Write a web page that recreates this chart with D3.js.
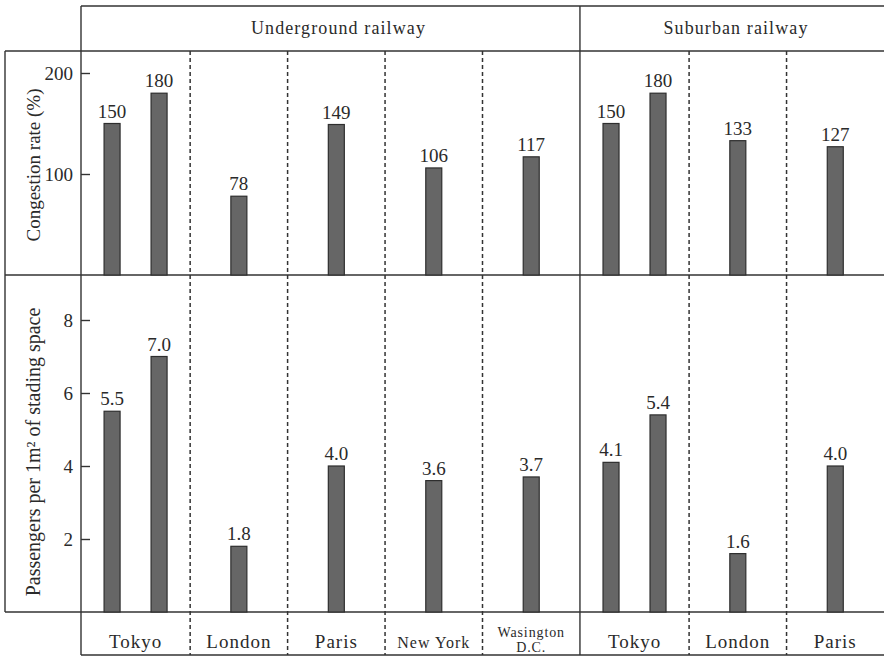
<!DOCTYPE html>
<html>
<head>
<meta charset="utf-8">
<script src="https://cdn.jsdelivr.net/npm/d3@7"></script>
<style>
  html, body { margin: 0; padding: 0; background: #fff; }
  svg { display: block; }
  text { font-family: "Liberation Serif", "DejaVu Serif", serif; fill: #2a2a2a; }
</style>
</head>
<body>
<svg id="chart" width="884" height="666"></svg>
<script>
// ---- Data ----
const groups = ["Underground railway", "Suburban railway"];
const categories = ["Tokyo", "London", "Paris", "New York", "Wasington D.C.", "Tokyo", "London", "Paris"];
const categoryGroup = [0, 0, 0, 0, 0, 1, 1, 1];
const congestion = [[150, 180], [78], [149], [106], [117], [150, 180], [133], [127]];
const passengers = [[5.5, 7.0], [1.8], [4.0], [3.6], [3.7], [4.1, 5.4], [1.6], [4.0]];
const congestionTicks = [100, 200];
const passengerTicks = [2, 4, 6, 8];
const congestionTitle = "Congestion rate (%)";
const passengerTitle = "Passengers per 1m\u00B2 of stading space";

// ---- Layout ----
const outerLeft = 5, left = 81, right = 884;
const headerTop = 6, headerBottom = 51, topBase = 275, botBase = 612, catBottom = 655;
const lineColor = "#333";
const barFill = "#666";
const barW = 16;

const svg = d3.select("#chart");

// column x-scale: columns weighted slightly by number of bars
const weights = congestion.map(d => 1 + 0.12 * (d.length - 1));
const cum = [0];
weights.forEach(w => cum.push(cum[cum.length - 1] + w));
const xw = d3.scaleLinear().domain([0, cum[cum.length - 1]]).range([left, right]);
const colX0 = i => xw(cum[i]);
const colX1 = i => xw(cum[i + 1]);
const colC = i => (colX0(i) + colX1(i)) / 2;

function barCenters(i, n) {
  if (n === 1) return [colC(i)];
  const inner = d3.scaleBand().domain(d3.range(n)).range([colC(i) - 47, colC(i) + 47]);
  return d3.range(n).map(k => inner(k) + inner.bandwidth() / 2);
}

const yTop = d3.scaleLinear().domain([0, 200]).range([topBase, 73]);
const yBot = d3.scaleLinear().domain([0, 8]).range([botBase, 320]);

// ---- Frame lines ----
const frame = svg.append("g").attr("stroke", lineColor).attr("stroke-width", 1.4).attr("fill", "none");
frame.append("line").attr("x1", left).attr("x2", right).attr("y1", headerTop).attr("y2", headerTop);
frame.append("line").attr("x1", outerLeft).attr("x2", right).attr("y1", headerBottom).attr("y2", headerBottom);
frame.append("line").attr("x1", outerLeft).attr("x2", right).attr("y1", topBase).attr("y2", topBase);
frame.append("line").attr("x1", outerLeft).attr("x2", right).attr("y1", botBase).attr("y2", botBase);
frame.append("line").attr("x1", left).attr("x2", right).attr("y1", catBottom).attr("y2", catBottom);
frame.append("line").attr("x1", outerLeft).attr("x2", outerLeft).attr("y1", headerBottom).attr("y2", botBase);
frame.append("line").attr("x1", left).attr("x2", left).attr("y1", headerTop).attr("y2", catBottom);

// column separators
for (let i = 1; i < categories.length; i++) {
  const groupBoundary = categoryGroup[i] !== categoryGroup[i - 1];
  frame.append("line")
    .attr("x1", colX0(i)).attr("x2", colX0(i))
    .attr("y1", groupBoundary ? headerTop : headerBottom)
    .attr("y2", catBottom)
    .attr("stroke-width", groupBoundary ? 1.4 : 1.5)
    .attr("stroke-dasharray", groupBoundary ? null : "4,3");
}

// ---- Group headers ----
groups.forEach((g, gi) => {
  const idx = categoryGroup.map((v, i) => v === gi ? i : -1).filter(i => i >= 0);
  const x0 = colX0(idx[0]), x1 = colX1(idx[idx.length - 1]);
  svg.append("text")
    .attr("x", (x0 + x1) / 2 + (gi === 0 ? 8 : 4))
    .attr("y", 34)
    .attr("text-anchor", "middle")
    .style("font-size", "18px")
    .style("letter-spacing", "1.1px")
    .text(g);
});

// ---- Axes ----
function styleAxis(g) {
  g.select(".domain").remove();
  g.selectAll(".tick line").attr("stroke", lineColor).attr("stroke-width", 1.4);
  g.selectAll(".tick text").attr("font-family", "Liberation Serif, serif").attr("font-size", 19).attr("fill", "#2a2a2a");
}
svg.append("g").attr("transform", `translate(${left},0)`)
  .call(d3.axisLeft(yTop).tickValues(congestionTicks).tickSize(-9).tickPadding(8).tickFormat(d3.format("d")))
  .call(styleAxis);
svg.append("g").attr("transform", `translate(${left},0)`)
  .call(d3.axisLeft(yBot).tickValues(passengerTicks).tickSize(-9).tickPadding(8).tickFormat(d3.format("d")))
  .call(styleAxis);

// axis titles
svg.append("text")
  .attr("transform", `translate(33,165) rotate(-90)`)
  .attr("text-anchor", "middle").attr("dominant-baseline", "central")
  .style("font-size", "19px")
  .text(congestionTitle);
svg.append("text")
  .attr("transform", `translate(33,452) rotate(-90)`)
  .attr("text-anchor", "middle").attr("dominant-baseline", "central")
  .style("font-size", "20px")
  .text(passengerTitle);

// ---- Bars ----
function drawPanel(values, y, fmt) {
  const g = svg.append("g");
  values.forEach((vals, i) => {
    const cs = barCenters(i, vals.length);
    vals.forEach((v, k) => {
      g.append("rect")
        .attr("x", cs[k] - barW / 2)
        .attr("y", y(v))
        .attr("width", barW)
        .attr("height", y(0) - y(v))
        .attr("fill", barFill)
        .attr("stroke", "#2e2e2e")
        .attr("stroke-width", 1.2);
      g.append("text")
        .attr("x", cs[k])
        .attr("y", y(v) - 6)
        .attr("text-anchor", "middle")
        .style("font-size", "19px")
        .text(fmt(v));
    });
  });
}
drawPanel(congestion, yTop, d3.format("d"));
drawPanel(passengers, yBot, d3.format(".1f"));

// ---- Category labels ----
categories.forEach((c, i) => {
  const t = svg.append("text")
    .attr("x", colC(i))
    .attr("text-anchor", "middle");
  if (c === "Wasington D.C.") {
    const parts = c.split(" ");
    t.style("font-size", "14px").style("letter-spacing", "0.9px");
    t.append("tspan").attr("x", colC(i)).attr("y", 637).text(parts[0]);
    t.append("tspan").attr("x", colC(i)).attr("y", 652).text(parts[1]);
  } else if (c === "New York") {
    t.attr("y", 648).style("font-size", "16px").style("letter-spacing", "1px").text(c);
  } else {
    t.attr("y", 648).style("font-size", "19px").style("letter-spacing", "1px").text(c);
  }
});
</script>
</body>
</html>
